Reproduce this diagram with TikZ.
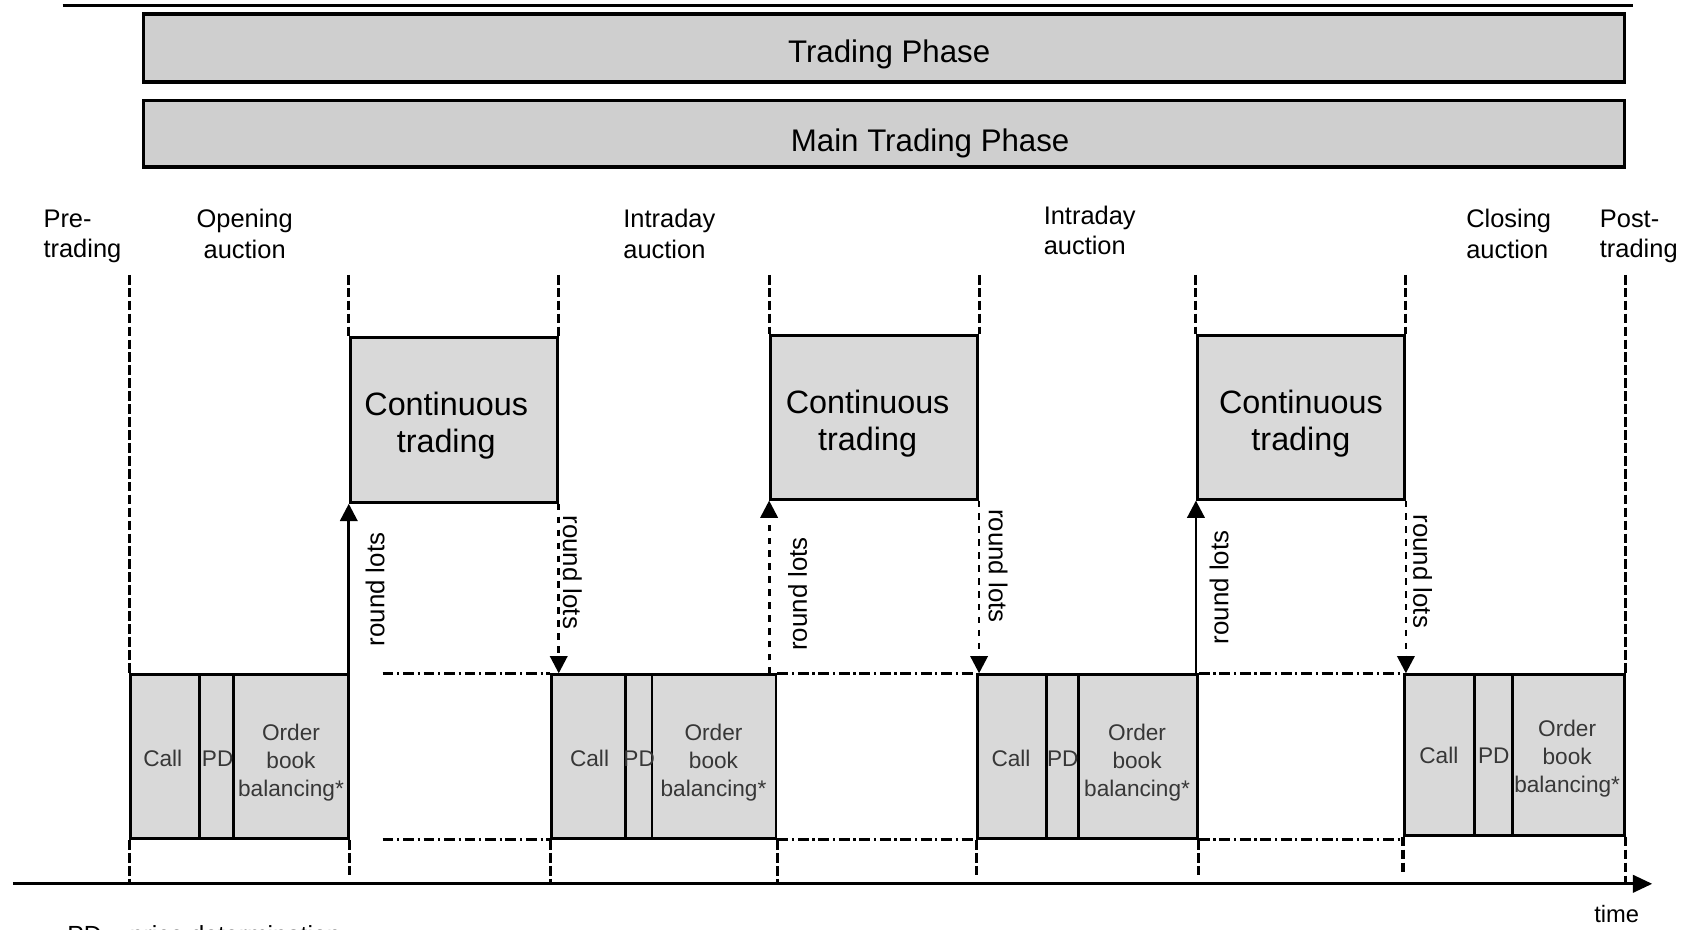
\documentclass[tikz,border=0pt]{standalone}
\usepackage{fontspec}
\setmainfont{Liberation Sans}
\usetikzlibrary{fit,arrows.meta}
\definecolor{phasegray}{RGB}{207,207,207}
\definecolor{boxgray}{RGB}{217,217,217}
\definecolor{txtgray}{RGB}{55,55,55}
\tikzset{
  phasebox/.style={draw, fill=phasegray, line width=1.6pt, inner sep=0pt},
  phasetext/.style={font=\fontsize{14.5}{17}\selectfont, inner sep=0pt, anchor=base},
  ctbox/.style={draw, fill=boxgray, line width=1.4pt, inner sep=0pt},
  cttext/.style={inner sep=0pt, align=center, font=\fontsize{15}{17.5}\selectfont},
  aucbox/.style={draw, fill=boxgray, line width=1.3pt, inner sep=0pt},
  auctext/.style={inner sep=0pt, align=center, text=txtgray, font=\fontsize{10.5}{13}\selectfont},
  bound/.style={line width=1.4pt, dash pattern=on 4.5pt off 1.5pt},
  gapline/.style={line width=1.4pt, dash pattern=on 5pt off 1.75pt on 1pt off 1.75pt},
  lotarrow/.style={line width=1.3pt, -{Triangle[length=8pt,width=8pt]}},
  phaselbl/.style={font=\fontsize{11.8}{14}\selectfont, inner sep=0pt, align=left},
  lotlbl/.style={font=\fontsize{12}{14}\selectfont, inner sep=0pt},
}
\begin{document}
\begin{tikzpicture}[x=0.5pt,y=-0.5pt]
\useasboundingbox (0,0) rectangle (1568,862);

% helper coordinates
\coordinate (top) at (0,255);
\coordinate (axisy) at (0,820);
\coordinate (bot) at (0,812);

% top rule
\coordinate (tl1) at (58,5);
\coordinate (tl2) at (1515,5);
\draw[line width=1.5pt] (tl1) -- (tl2);

% phase bars
\node[phasebox, fit={(133,13)(1507,76)}] (tp) {};
\node[phasetext] (tpl) at (825,58) {Trading Phase};
\node[phasebox, fit={(133,93)(1507,155)}] (mtp) {};
\node[phasetext] (mtpl) at (863,141) {Main Trading Phase};

% phase labels
\node[phaselbl, anchor=north west] (pre) at (40,194) {Pre-\\trading};
\node[phaselbl, anchor=north, align=center] (open) at (227,194) {Opening\\auction};
\node[phaselbl, anchor=north west] (intra1) at (578,194) {Intraday\\auction};
\node[phaselbl, anchor=north west] (intra2) at (968,191) {Intraday\\auction};
\node[phaselbl, anchor=north west] (close) at (1360,194) {Closing\\auction};
\node[phaselbl, anchor=north west] (post) at (1484,194) {Post-\\trading};

% continuous trading boxes
\node[ctbox, fit={(325,313)(517,466)}] (ct1) {};
\node[ctbox, fit={(715,311)(907,463)}] (ct2) {};
\node[ctbox, fit={(1111,311)(1303,463)}] (ct3) {};
\node[cttext] (ct1t) at (414,395) {Continuous\\trading};
\node[cttext] (ct2t) at (805,393) {Continuous\\trading};
\node[cttext] (ct3t) at (1207,393) {Continuous\\trading};

% auction boxes
\node[aucbox, fit={(121,626)(185,778)}] (call1) {};
\node[aucbox, fit={(185,626)(217,778)}] (pd1) {};
\node[aucbox, fit={(217,626)(323,778)}] (obb1) {};
\node[aucbox, fit={(512,626)(580,778)}] (call2) {};
\node[aucbox, fit={(580,626)(605,778)}] (pd2) {};
\node[aucbox, fit={(605,626)(720,778)}] (obb2) {};
\node[aucbox, fit={(907,626)(971,778)}] (call3) {};
\node[aucbox, fit={(971,626)(1001,778)}] (pd3) {};
\node[aucbox, fit={(1001,626)(1111,778)}] (obb3) {};
\node[aucbox, fit={(1303,626)(1368,775)}] (call4) {};
\node[aucbox, fit={(1368,626)(1403,775)}] (pd4) {};
\node[aucbox, fit={(1403,626)(1507,775)}] (obb4) {};

\node[auctext] (call1t) at (151,704) {Call};
\node[auctext] (pd1t) at (202,704) {PD};
\node[auctext] (obb1t) at (270,708) {Order\\book\\balancing*};
\node[auctext] (call2t) at (547,704) {Call};
\node[auctext] (pd2t) at (593,704) {PD};
\node[auctext] (obb2t) at (662,708) {Order\\book\\balancing*};
\node[auctext] (call3t) at (938,704) {Call};
\node[auctext] (pd3t) at (986,704) {PD};
\node[auctext] (obb3t) at (1055,708) {Order\\book\\balancing*};
\node[auctext] (call4t) at (1335,701) {Call};
\node[auctext] (pd4t) at (1386,701) {PD};
\node[auctext] (obb4t) at (1454,704) {Order\\book\\balancing*};

% boundary dashed lines (top parts)
\draw[bound] (call1.north west |- top) -- (call1.north west);
\draw[bound] (ct1.north west |- top) -- (ct1.north west);
\draw[bound] (ct1.north east |- top) -- (ct1.north east);
\draw[bound] (ct2.north west |- top) -- (ct2.north west);
\draw[bound] (ct2.north east |- top) -- (ct2.north east);
\draw[bound] (ct3.north west |- top) -- (ct3.north west);
\draw[bound] (ct3.north east |- top) -- (ct3.north east);
\draw[bound] (obb4.north east |- top) -- (obb4.north east);

% boundary dashed lines (bottom parts)
\draw[bound] (call1.south west) -- (call1.south west |- axisy);
\draw[bound] (obb1.south east) -- (obb1.south east |- bot);
\draw[bound] (call2.south west) -- (call2.south west |- axisy);
\draw[bound] (obb2.south east) -- (obb2.south east |- axisy);
\draw[bound] (call3.south west) -- (call3.south west |- bot);
\draw[bound] (obb3.south east) -- (obb3.south east |- bot);
\draw[bound] (call4.south west) -- (call4.south west |- bot);
\draw[bound] (obb4.south east) -- (obb4.south east |- axisy);

% gap dash-dot lines
\coordinate (g1) at (355,0);
\draw[gapline] (g1 |- obb1.north) -- (call2.north west);
\draw[gapline] (g1 |- obb1.south) -- (call2.south west);
\draw[gapline] (obb2.north east) -- (call3.north west);
\draw[gapline] (obb2.south east) -- (call3.south west);
\draw[gapline] (obb3.north east) -- (call4.north west);
\draw[gapline] (obb3.south east) -- (call4.west |- obb3.south east);

% round-lot arrows
\draw[lotarrow] (ct1.south west |- obb1.north) -- (ct1.south west);
\draw[lotarrow, dashed] (ct1.south east) -- (ct1.south east |- call2.north);
\draw[lotarrow, dashed] (ct2.south west |- obb2.north) -- (ct2.south west);
\draw[lotarrow, dashed] (ct2.south east) -- (ct2.south east |- call3.north);
\draw[lotarrow] (ct3.south west |- obb3.north) -- (ct3.south west);
\draw[lotarrow, dashed] (ct3.south east) -- (ct3.south east |- call4.north);

\node[lotlbl, rotate=90] (rl1) at (348,547) {round lots};
\node[lotlbl, rotate=-90] (rl2) at (531,531) {round lots};
\node[lotlbl, rotate=90] (rl3) at (740,551) {round lots};
\node[lotlbl, rotate=-90] (rl4) at (926,525) {round lots};
\node[lotlbl, rotate=90] (rl5) at (1131,545) {round lots};
\node[lotlbl, rotate=-90] (rl6) at (1320,530) {round lots};

% time axis
\coordinate (ax0) at (12,820);
\coordinate (ax1) at (1533,820);
\draw[line width=1.5pt, -{Triangle[length=9pt,width=8pt]}] (ax0) -- (ax1);
\node[font=\fontsize{11}{13}\selectfont, inner sep=0pt, anchor=north] (time) at (1500,840) {time};

% footnote (cut off at the lower edge, as in the reference)
\node[font=\fontsize{11.5}{13}\selectfont, inner sep=0pt, anchor=base west] (pdnote) at (62,875) {PD = price determination};
\end{tikzpicture}
\end{document}
